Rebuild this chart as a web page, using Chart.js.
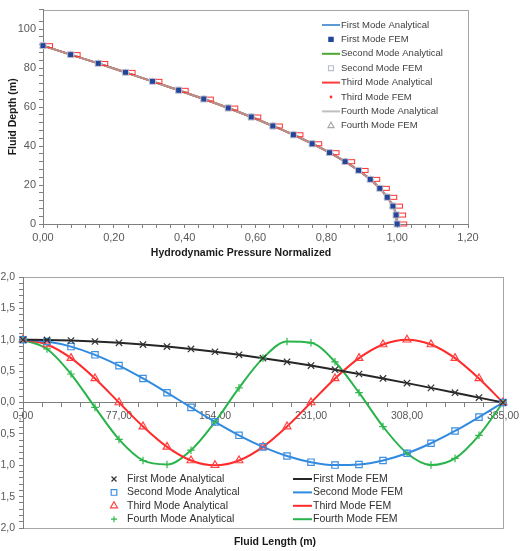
<!DOCTYPE html>
<html>
<head>
<meta charset="utf-8">
<script src="https://cdn.jsdelivr.net/npm/chart.js@4.4.1/dist/chart.umd.min.js"></script>
<style>
  html, body { margin: 0; padding: 0; background: #fff; }
  body { width: 521px; height: 551px; overflow: hidden; position: relative; }
  canvas { display: block; }
  #topBox { position: absolute; left: 0; top: 0; width: 521px; height: 262px; }
  #bottomBox { position: absolute; left: -2px; top: 262px; width: 554px; height: 289px; }
</style>
</head>
<body>
<div id="topBox"><canvas id="pressureChart" width="521" height="262"></canvas></div>
<div id="bottomBox"><canvas id="modeChart" width="554" height="289"></canvas></div>
<script>
// Top chart: normalized hydrodynamic pressure over the fluid depth
const depth = [91.5, 86.9, 82.4, 77.8, 73.2, 68.6, 64.1, 59.5, 54.9, 50.3, 45.8, 41.2, 36.6, 32.0, 27.5, 22.9, 18.3, 13.7, 9.2, 4.6, 0];
const pressure = [0, 0.078, 0.156, 0.233, 0.309, 0.383, 0.454, 0.523, 0.588, 0.649, 0.707, 0.760, 0.809, 0.853, 0.891, 0.924, 0.951, 0.972, 0.988, 0.997, 1.0];

// Bottom chart: mode shapes along the fluid length
const fluidLength = [0, 19.25, 38.5, 57.75, 77, 96.25, 115.5, 134.75, 154, 173.25, 192.5, 211.75, 231, 250.25, 269.5, 288.75, 308, 327.25, 346.5, 365.75, 385];
const firstMode = [1, 0.997, 0.988, 0.972, 0.951, 0.924, 0.891, 0.853, 0.809, 0.760, 0.707, 0.649, 0.588, 0.523, 0.454, 0.383, 0.309, 0.233, 0.156, 0.078, 0];
const secondMode = [1, 0.972, 0.891, 0.760, 0.588, 0.383, 0.156, -0.078, -0.309, -0.523, -0.707, -0.853, -0.951, -0.997, -0.988, -0.924, -0.809, -0.649, -0.454, -0.233, 0];
const thirdMode = [1, 0.924, 0.707, 0.383, 0, -0.383, -0.707, -0.924, -1, -0.924, -0.707, -0.383, 0, 0.383, 0.707, 0.924, 1, 0.924, 0.707, 0.383, 0];
const fourthMode = [1, 0.853, 0.454, -0.078, -0.588, -0.924, -0.988, -0.760, -0.309, 0.233, 0.707, 0.972, 0.951, 0.649, 0.156, -0.383, -0.809, -0.997, -0.891, -0.523, 0];
const modeNames = ['First', 'Second', 'Third', 'Fourth'];

Chart.defaults.font.family = '"Liberation Sans", Arial, sans-serif';
Chart.defaults.animation = false;

const toPoints = (xs, ys) => xs.map((x, i) => ({ x: x, y: ys[i] }));
const isMultiple = (v, m) => Math.abs(v / m - Math.round(v / m)) < 1e-6;

// small red box drawn just right of the point (how the FEM marks look in the plot)
function offsetBox(color) {
    const c = document.createElement('canvas');
    c.width = 22; c.height = 7;
    const g = c.getContext('2d');
    g.strokeStyle = color;
    g.lineWidth = 1;
    g.strokeRect(12.5, 1.5, 8, 4);
    return c;
}

// gray frame round the plot area, axes are drawn over it
const plotFrame = {
    id: 'plotFrame',
    beforeDraw(chart, args, opts) {
        const { ctx, chartArea: a } = chart;
        ctx.save();
        ctx.strokeStyle = opts.color;
        ctx.lineWidth = 1;
        ctx.strokeRect(Math.round(a.left) + 0.5, Math.round(a.top) + 0.5,
            Math.round(a.right - a.left), Math.round(a.bottom - a.top));
        ctx.restore();
    }
};

// x axis caption under the plot (the original sits off-centre)
const caption = {
    id: 'caption',
    afterDraw(chart, args, opts) {
        const ctx = chart.ctx;
        ctx.save();
        ctx.font = opts.font;
        ctx.fillStyle = opts.color;
        ctx.textAlign = 'center';
        ctx.textBaseline = 'middle';
        ctx.fillText(opts.text, opts.x, opts.y);
        ctx.restore();
    }
};

// legend drawn inside the plot area, in columns
const boxLegend = {
    id: 'boxLegend',
    afterDraw(chart, args, opts) {
        const ctx = chart.ctx;
        ctx.save();
        ctx.font = opts.font;
        ctx.textBaseline = 'middle';
        opts.columns.forEach(col => {
            col.items.forEach((idx, row) => {
                const ds = chart.data.datasets[idx];
                const y = col.y + row * col.rowHeight;
                if (ds.showLine) {
                    ctx.strokeStyle = ds.borderColor;
                    ctx.lineWidth = ds.borderWidth;
                    ctx.beginPath();
                    ctx.moveTo(col.x, y);
                    ctx.lineTo(col.x + col.lineLength, y);
                    ctx.stroke();
                } else {
                    ctx.strokeStyle = ds.pointBorderColor;
                    ctx.fillStyle = ds.pointBackgroundColor;
                    ctx.lineWidth = ds.pointBorderWidth;
                    Chart.helpers.drawPoint(ctx, {
                        pointStyle: ds.legendStyle || ds.pointStyle,
                        radius: ds.legendRadius,
                        rotation: 0,
                        borderWidth: ds.pointBorderWidth
                    }, col.x + col.lineLength / 2, y);
                }
                ctx.fillStyle = opts.color;
                ctx.fillText(ds.label, col.textX, y);
            });
        });
        ctx.restore();
    }
};

function lineSet(label, xs, ys, color, width, order) {
    return {
        label: label, data: toPoints(xs, ys), showLine: true,
        borderColor: color, borderWidth: width, pointRadius: 0,
        cubicInterpolationMode: 'monotone', clip: false, order: order
    };
}

function pointSet(label, xs, ys, style, radius, border, fill, legendRadius) {
    return {
        label: label, data: toPoints(xs, ys), showLine: false,
        pointStyle: style, pointRadius: radius, pointBorderColor: border,
        pointBackgroundColor: fill, pointBorderWidth: 1.2,
        legendRadius: legendRadius, clip: false, order: 0
    };
}

// ---- top chart ----
const topSets = [
    lineSet('First Mode Analytical', pressure, depth, '#5b9bd5', 2, 4),
    pointSet('First Mode FEM', pressure, depth, 'rect', 2.6, '#23459a', '#23459a', 3),
    lineSet('Second Mode Analytical', pressure, depth, '#4ea72e', 2, 3),
    pointSet('Second Mode FEM', pressure, depth, 'rect', 4, '#b8bccc', 'rgba(0,0,0,0)', 3.5),
    lineSet('Third Mode Analytical', pressure, depth, '#ff3b3b', 2, 2),
    pointSet('Third Mode FEM', pressure, depth, offsetBox('#ff3030'), 4, '#ff3030', '#ff3030', 1.4),
    lineSet('Fourth Mode Analytical', pressure, depth, 'rgba(170,170,170,0.75)', 2, 1),
    pointSet('Fourth Mode FEM', pressure, depth, 'triangle', 3, '#a6a6a6', 'rgba(0,0,0,0)', 3.5)
];
topSets[5].legendStyle = 'circle';
topSets[5].pointBorderWidth = 0;

new Chart(document.getElementById('pressureChart'), {
    type: 'scatter',
    data: { datasets: topSets },
    plugins: [plotFrame, boxLegend, caption],
    options: {
        responsive: false,
        layout: { padding: { top: 8, right: 53, left: 0, bottom: 19 } },
        scales: {
            x: {
                type: 'linear', position: 'bottom', min: 0, max: 1.2,
                border: { color: '#7f7f7f' },
                grid: { drawOnChartArea: false, color: '#7f7f7f', tickLength: 4 },
                ticks: {
                    stepSize: 0.04, autoSkip: false, maxRotation: 0, padding: 3,
                    color: '#595959', font: { size: 11 },
                    callback: v => isMultiple(v, 0.2) ? v.toFixed(2).replace('.', ',') : ''
                },
                afterFit: s => { s.height = 19; }
            },
            y: {
                type: 'linear', position: 'left', min: 0, max: 110,
                border: { color: '#7f7f7f' },
                grid: { drawOnChartArea: false, color: '#7f7f7f', tickLength: 4 },
                ticks: {
                    stepSize: 4, autoSkip: false, padding: 3,
                    color: '#595959', font: { size: 11 },
                    callback: v => isMultiple(v, 20) ? String(Math.round(v)) : ''
                },
                title: {
                    display: true, text: 'Fluid Depth (m)', color: '#1a1a1a',
                    font: { size: 10.5, weight: 'bold' }, padding: { top: 7, bottom: 0 }
                },
                afterFit: s => { s.width = 43; }
            }
        },
        plugins: {
            legend: { display: false },
            tooltip: { enabled: false },
            plotFrame: { color: '#a6a6a6' },
            caption: {
                text: 'Hydrodynamic Pressure Normalized', x: 241, y: 253.5,
                font: 'bold 10.5px "Liberation Sans", Arial, sans-serif', color: '#1a1a1a'
            },
            boxLegend: {
                font: '9.5px "Liberation Sans", Arial, sans-serif', color: '#404040',
                columns: [{ items: [0, 1, 2, 3, 4, 5, 6, 7], x: 322, lineLength: 18, textX: 341, y: 25, rowHeight: 14.4 }]
            }
        }
    }
});

// ---- bottom chart ----
const modeShapes = [firstMode, secondMode, thirdMode, fourthMode];
const markStyles = ['crossRot', 'rect', 'triangle', 'cross'];
const markRadius = [4.5, 4.5, 4.5, 3.8];
const legendRadius = [3.5, 4, 4, 3];
const markColors = ['#333333', '#3d8fe0', '#ff4040', '#2eb84c'];
const lineColors = ['#262626', '#2f8ae0', '#ff2a2a', '#28b44a'];

const bottomSets = [];
modeNames.forEach((name, i) => {
    bottomSets.push(pointSet(name + ' Mode Analytical', fluidLength, modeShapes[i],
        markStyles[i], markRadius[i], markColors[i], 'rgba(0,0,0,0)', legendRadius[i]));
});
modeNames.forEach((name, i) => {
    bottomSets.push(lineSet(name + ' Mode FEM', fluidLength, modeShapes[i], lineColors[i], 2, 1));
});

new Chart(document.getElementById('modeChart'), {
    type: 'scatter',
    data: { datasets: bottomSets },
    plugins: [plotFrame, boxLegend, caption],
    options: {
        responsive: false,
        layout: { padding: { top: 15, right: 49, left: 0, bottom: 23 } },
        scales: {
            x: {
                type: 'linear', position: { y: 0 }, min: 0, max: 385,
                border: { color: '#7f7f7f' },
                grid: { drawOnChartArea: false, color: '#7f7f7f', tickLength: 4 },
                ticks: {
                    stepSize: 15.4, autoSkip: false, maxRotation: 0, padding: 3,
                    color: '#595959', font: { size: 10.5 },
                    callback: v => isMultiple(v, 77) ? v.toFixed(2).replace('.', ',') : ''
                }
            },
            y: {
                type: 'linear', position: 'left', min: -2, max: 2,
                border: { color: '#7f7f7f' },
                grid: { drawOnChartArea: false, color: '#7f7f7f', tickLength: 4 },
                ticks: {
                    stepSize: 0.1, autoSkip: false, padding: 4,
                    color: '#595959', font: { size: 10.5 },
                    callback: v => isMultiple(v, 0.5) ? v.toFixed(1).replace('.', ',') : ''
                },
                afterFit: s => { s.width = 25; }
            }
        },
        plugins: {
            legend: { display: false },
            tooltip: { enabled: false },
            plotFrame: { color: '#a6a6a6' },
            caption: {
                text: 'Fluid Length (m)', x: 277, y: 280.5,
                font: 'bold 10.5px "Liberation Sans", Arial, sans-serif', color: '#1a1a1a'
            },
            boxLegend: {
                font: '10.5px "Liberation Sans", Arial, sans-serif', color: '#303030',
                columns: [
                    { items: [0, 1, 2, 3], x: 110, lineLength: 12, textX: 129, y: 217, rowHeight: 13.4 },
                    { items: [4, 5, 6, 7], x: 295, lineLength: 19, textX: 315, y: 217, rowHeight: 13.4 }
                ]
            }
        }
    }
});
</script>
</body>
</html>
